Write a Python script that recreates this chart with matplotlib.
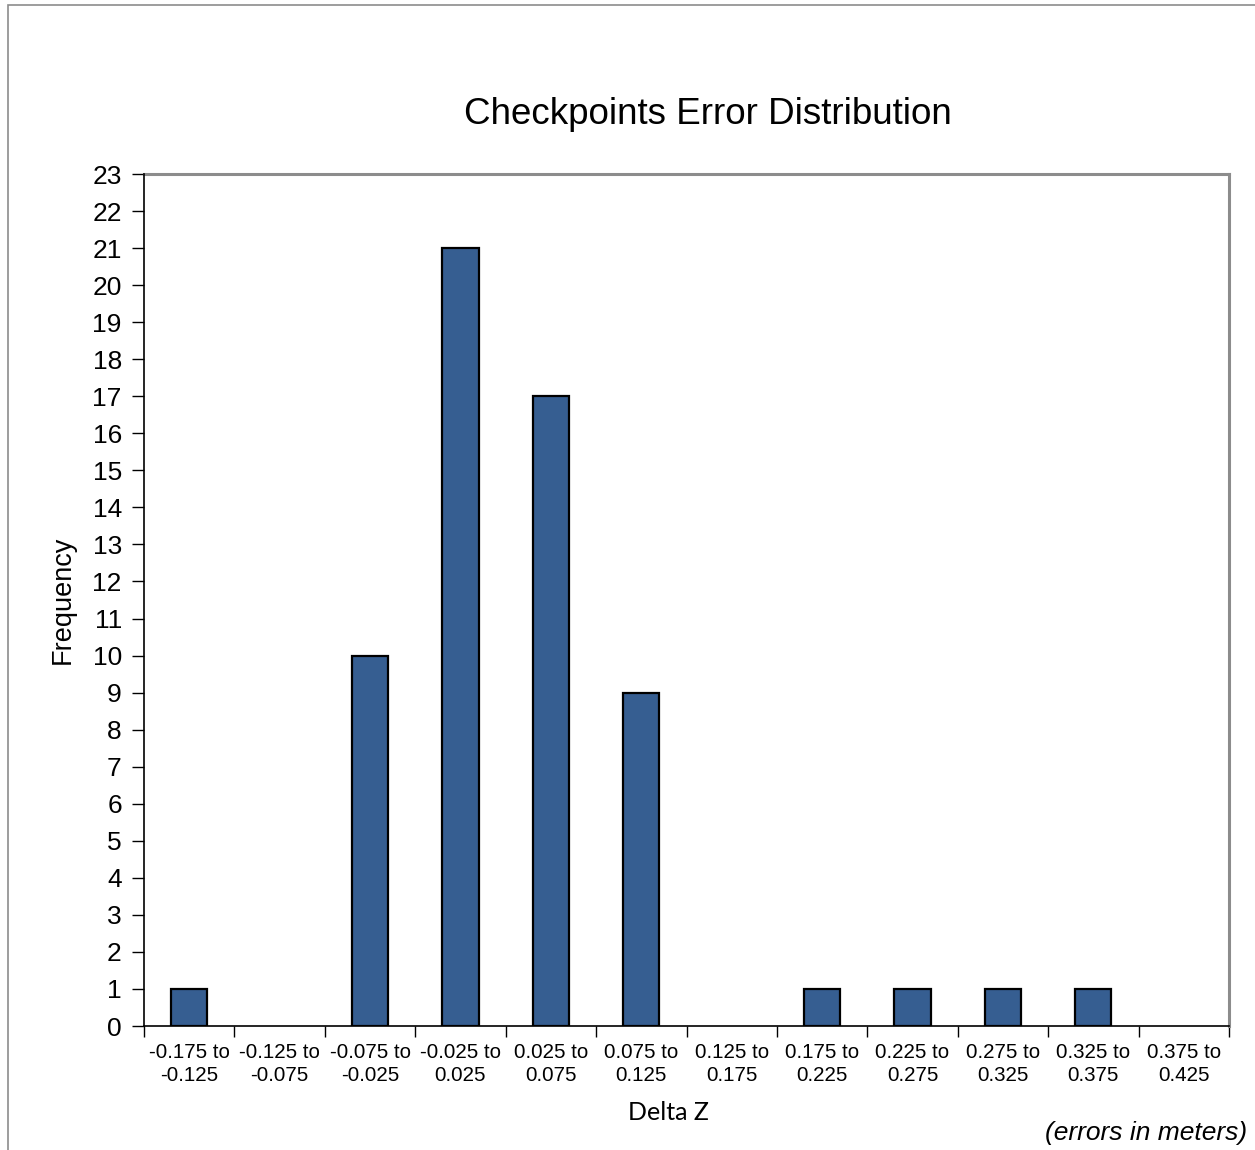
import matplotlib
matplotlib.use("Agg")
import matplotlib.pyplot as plt
from matplotlib.patches import Rectangle
import numpy as np

plt.rcParams['font.family'] = ['Liberation Sans', 'DejaVu Sans']

bins = ["-0.175 to\n-0.125", "-0.125 to\n-0.075", "-0.075 to\n-0.025",
        "-0.025 to\n0.025", "0.025 to\n0.075", "0.075 to\n0.125",
        "0.125 to\n0.175", "0.175 to\n0.225", "0.225 to\n0.275",
        "0.275 to\n0.325", "0.325 to\n0.375", "0.375 to\n0.425"]
frequency = [1, 0, 10, 21, 17, 9, 0, 1, 1, 1, 1, 0]
y_ticks = list(range(0, 24))

W, H = 1255, 1150
fig = plt.figure(figsize=(W / 100, H / 100), dpi=100)

# outer chart frame (only top and left edges fall inside the image)
fig.patches.append(Rectangle((8 / W, -0.1), 1.2, 1 - 5 / H + 0.1,
                             transform=fig.transFigure, fill=False,
                             edgecolor="#8c8c8c", linewidth=1.2))

ax = fig.add_axes([144 / W, 1 - 1026 / H, (1229 - 144) / W, (1026 - 174) / H])

x = np.arange(len(bins))
edge_widths = [1.6 if v else 0 for v in frequency]
ax.bar(x, frequency, width=0.4, color="#365E91", edgecolor="black",
       linewidth=edge_widths, zorder=2)

ax.set_xlim(-0.5, len(bins) - 0.5)
ax.set_ylim(0, 23)
ax.set_yticks(y_ticks)
ax.tick_params(axis="y", labelsize=19, length=9, width=1, pad=7, direction="out")

# category boundary ticks, labels centred under each bar
ax.set_xticks(np.arange(-0.5, len(bins)), minor=False)
ax.set_xticklabels([])
ax.set_xticks(x, minor=True)
ax.set_xticklabels(bins, minor=True, fontsize=14.8, linespacing=1.3)
ax.tick_params(axis="x", which="major", length=8, width=1, color="black")
ax.tick_params(axis="x", which="minor", length=0, pad=12)

for side in ("left", "bottom"):
    ax.spines[side].set_color("black")
    ax.spines[side].set_linewidth(1.2)
    ax.spines[side].set_zorder(3)
for side in ("top", "right"):
    ax.spines[side].set_color("#8c8c8c")
    ax.spines[side].set_linewidth(2.2)

ax.set_ylabel("Frequency", fontsize=19.5, labelpad=12)

fig.text(669 / W, 1 - 1112 / H, "Delta Z", ha="center", va="center",
         fontsize=18, family=["Lato", "DejaVu Sans"])
fig.text(708 / W, 1 - 115 / H, "Checkpoints Error Distribution",
         ha="center", va="center", fontsize=26.5)
fig.text(1247 / W, 1 - 1133 / H, "(errors in meters)", ha="right", va="center",
         fontsize=19, style="italic")

fig.savefig("out.png", dpi=100)
